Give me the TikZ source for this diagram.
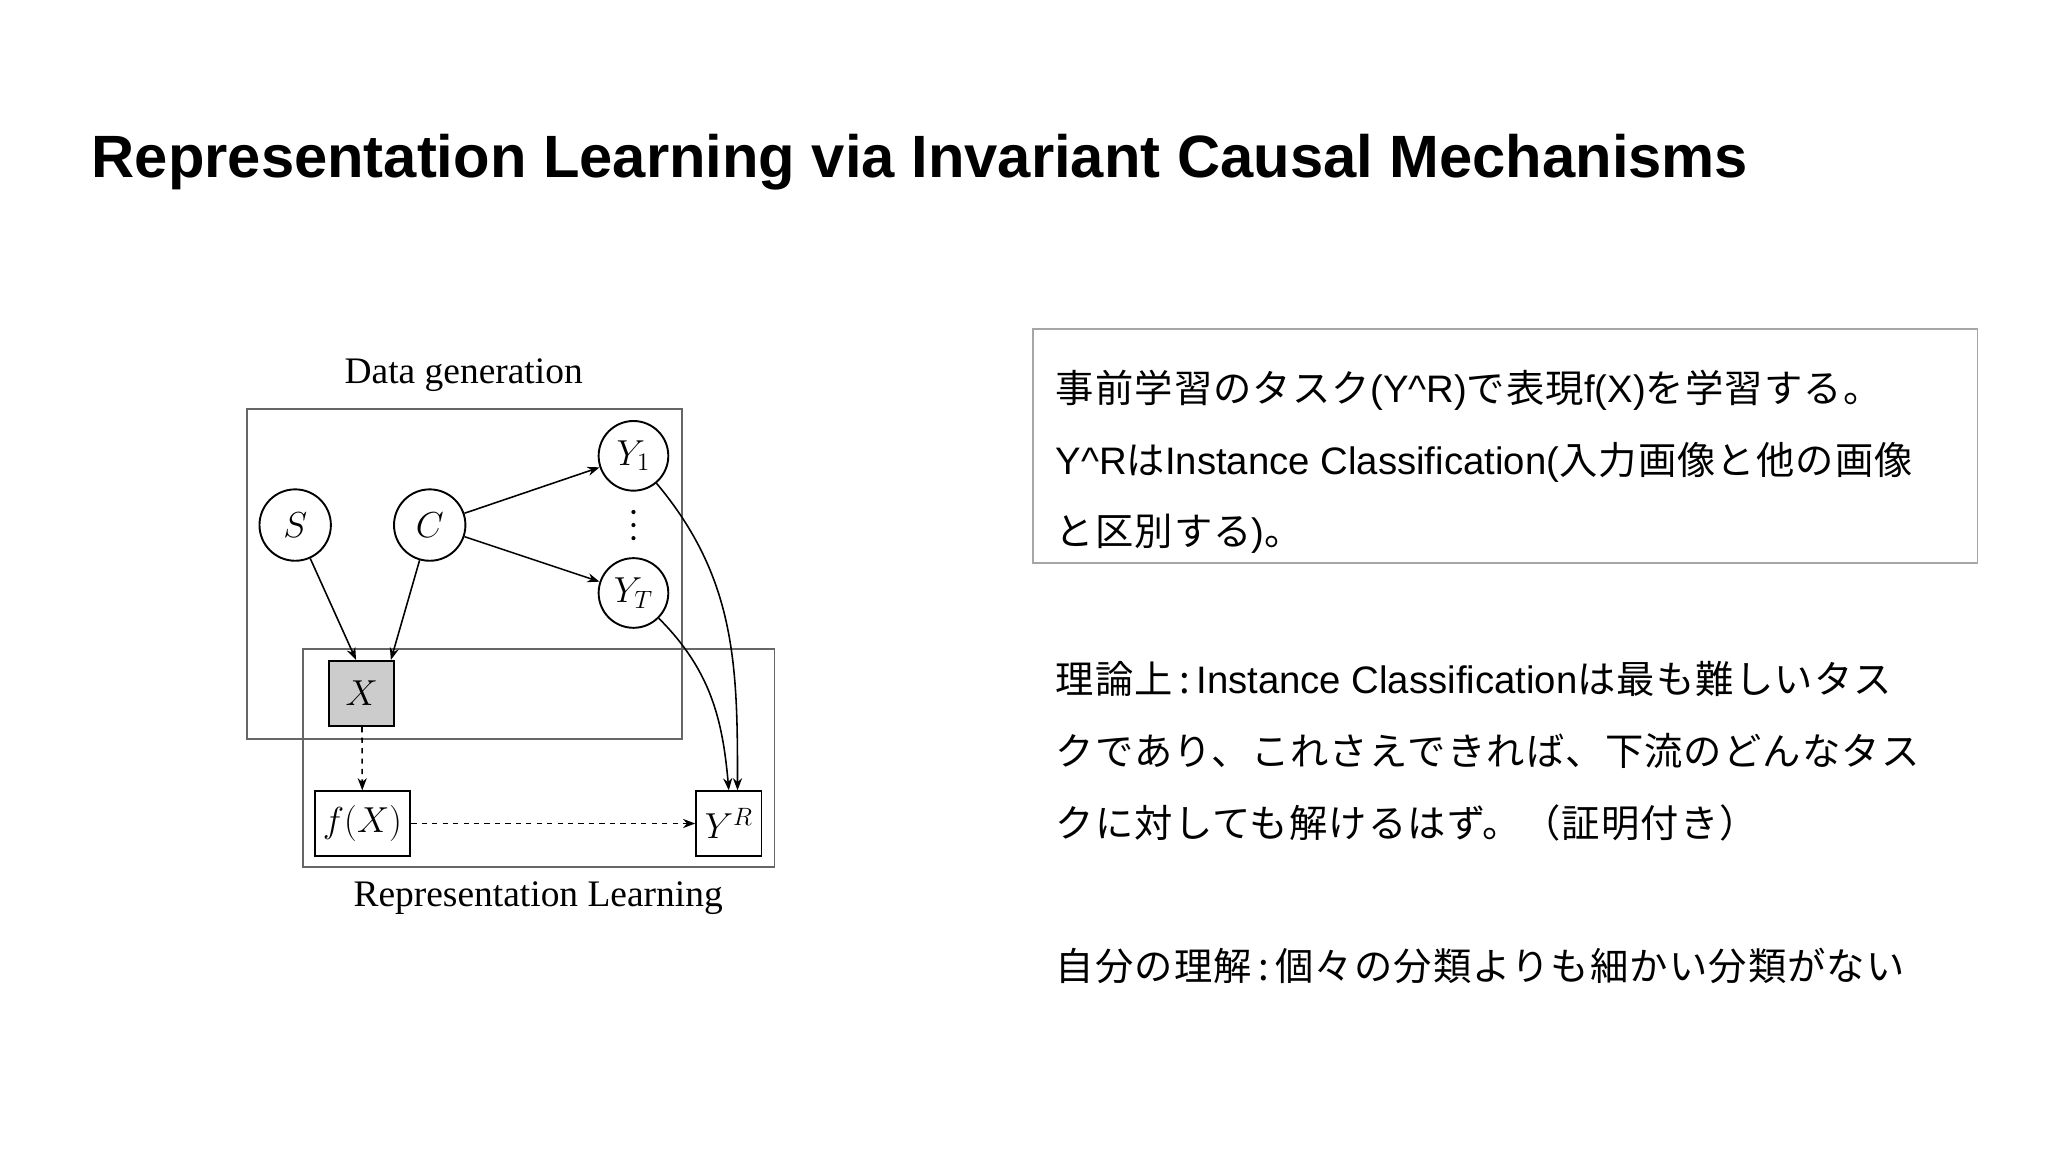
\documentclass[tikz,border=0pt]{standalone}
\usepackage{fontspec}
\setmainfont{Liberation Serif}
\newfontfamily\titlefont{Liberation Sans}
\newfontfamily\jp[LetterSpace=3]{Noto Sans CJK JP}
\newcommand{\lat}[1]{{\titlefont #1}}
\usetikzlibrary{arrows.meta}
\begin{document}
\begin{tikzpicture}[x=0.75pt,y=-0.75pt,
  cnode/.style={draw,circle,line width=1.1pt,inner sep=0pt,font=\fontsize{21}{21}\selectfont},
  bnode/.style={draw,line width=1.1pt,inner sep=0pt,font=\fontsize{21}{21}\selectfont},
  arr/.style={-{Stealth[length=7pt]},line width=0.9pt},
  jt/.style={anchor=base west,font=\jp\fontsize{22}{22}\selectfont,inner sep=0pt},
  lab/.style={font=\fontsize{21.5}{21.5}\selectfont}]
\useasboundingbox (0,0) rectangle (1568,882);
\node[anchor=base west,inner sep=0pt,font=\titlefont\bfseries\fontsize{34.3}{34.3}\selectfont] (title) at (70,136) {Representation Learning via Invariant Causal Mechanisms};
% diagram
\node[lab] (dg) at (355,287) {Data generation};
\draw[line width=0.9pt,gray!80!black] (189,313) rectangle (522,566);
\draw[line width=0.9pt,gray!80!black] (232,497) rectangle (593,664);
\node[lab] (rl) at (412,688) {Representation Learning};
\node[cnode,minimum size=41pt] (S) at (226,402) {$S$};
\node[cnode,minimum size=41pt] (C) at (329,402) {$C$};
\node[cnode,minimum size=40pt] (Y1) at (485,349) {$Y_1$};
\node[cnode,minimum size=40pt] (YT) at (485,454) {$Y_T$};
\foreach \yy in {392,402,412} \fill (485,\yy) circle[radius=1.6];
\node[bnode,fill=gray!40,minimum width=37.5pt,minimum height=37.5pt] (X) at (277,531) {$X$};
\node[bnode,minimum width=55pt,minimum height=37pt] (fX) at (277.5,630.5) {$f(X)$};
\node[bnode,minimum width=37.5pt,minimum height=37pt] (YR) at (558,630.5) {$Y^R$};
\draw[arr] (S) -- ([xshift=16]X.north west);
\draw[arr] (C) -- ([xshift=36]X.north west);
\draw[arr] (C) -- (Y1);
\draw[arr] (C) -- (YT);
\draw[arr] (Y1) to[out=-50,in=90] ([xshift=5]YR.north);
\draw[arr] (YT) to[out=-45,in=95] (YR.north);
\draw[arr,dashed] (X) -- (fX);
\draw[arr,dashed] (fX) -- (YR);
% text
\draw[gray!70,line width=0.8pt] (791,252) rectangle (1514,431);
\node[jt] (t1) at (808,308) {事前学習のタスク\lat{(Y\^{}R)}で表現\lat{f(X)}を学習する。};
\node[jt] (t2) at (808,363) {\lat{Y\^{}R}は\lat{Instance Classification(}入力画像と他の画像};
\node[jt] (t3) at (808,418) {と区別する\lat{)}。};
\node[jt] (t4) at (808,531) {理論上\,:\,\lat{Instance Classification}は最も難しいタス};
\node[jt] (t5) at (808,586) {クであり、これさえできれば、下流のどんなタス};
\node[jt] (t6) at (808,641) {クに対しても解けるはず。（証明付き）};
\node[jt] (t7) at (808,751) {自分の理解\,:\,個々の分類よりも細かい分類がない};
\end{tikzpicture}
\end{document}
